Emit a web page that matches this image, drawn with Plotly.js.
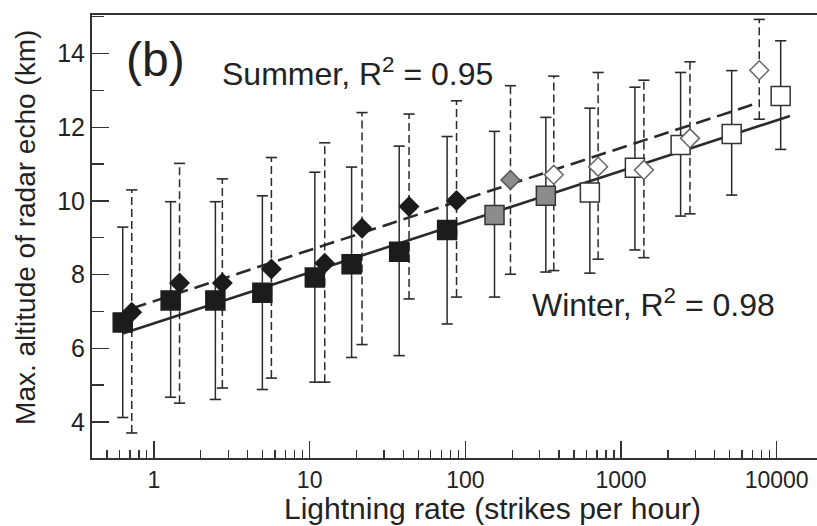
<!DOCTYPE html>
<html>
<head>
<meta charset="utf-8">
<script src="https://cdn.plot.ly/plotly-3.0.1.min.js"></script>
<style>html,body{margin:0;padding:0;background:#fff}#chart{width:817px;height:526px}</style>
</head>
<body>
<div id="chart"></div>
<script>
// Winter (squares, solid)
const winterRate = [0.63, 1.28, 2.48, 4.97, 10.8, 18.6, 37.6, 76.4, 154, 329, 631, 1228, 2415, 5140, 10610];
const winterAlt  = [6.70, 7.30, 7.30, 7.51, 7.92, 8.28, 8.62, 9.21, 9.62, 10.14, 10.23, 10.90, 11.52, 11.82, 12.85];
const winterHi   = [9.29, 9.98, 9.98, 10.14, 10.78, 10.92, 11.49, 11.75, 11.89, 12.27, 12.52, 13.09, 13.49, 13.54, 14.35];
const winterLo   = [4.12, 4.67, 4.61, 4.88, 5.08, 5.75, 5.80, 6.66, 7.39, 8.07, 8.04, 8.67, 9.59, 10.16, 11.40];
const winterClass = ['black','black','black','black','black','black','black','black','gray','gray','white','white','white','white','white'];

// Summer (diamonds, dashed)
const summerRate = [0.72, 1.46, 2.75, 5.68, 12.5, 21.7, 43.5, 87.8, 195, 370, 713, 1403, 2773, 7730];
const summerAlt  = [6.98, 7.77, 7.77, 8.15, 8.31, 9.26, 9.85, 10.01, 10.57, 10.71, 10.93, 10.84, 11.70, 13.55];
const summerHi   = [10.30, 11.02, 10.60, 11.18, 11.58, 12.40, 12.36, 12.72, 13.13, 13.39, 13.49, 13.28, 13.78, 14.93];
const summerLo   = [3.70, 4.51, 4.92, 5.19, 5.08, 6.10, 7.34, 7.39, 8.01, 8.11, 8.42, 8.46, 9.65, 12.22];
const summerClass = ['black','black','black','black','black','black','black','black','gray','white','white','white','white','white'];

// Regression lines (end points)
const winterFitRate = [0.63, 12170];
const winterFitAlt  = [6.40, 12.31];
const summerFitRate = [0.72, 7430];
const summerFitAlt  = [7.08, 12.65];

const xTickVals = [1, 10, 100, 1000, 10000];
const xTickText = ['1', '10', '100', '1000', '10000'];
const yTickVals = [4, 6, 8, 10, 12, 14];

const fills = {black: '#1c1c1c', gray: '#8c8c8c', white: '#ffffff'};
const sqEdge = {black: '#1c1c1c', gray: '#333333', white: '#333333'};
const diEdge = {black: '#1c1c1c', gray: '#555555', white: '#666666'};

function stems(x, lo, hi) {
  const xs = [], ys = [];
  x.forEach((v, i) => { xs.push(v, v, null); ys.push(lo[i], hi[i], null); });
  return {xs, ys};
}
const ws = stems(winterRate, winterLo, winterHi);
const ss = stems(summerRate, summerLo, summerHi);
const ink = '#2a2a2a';

const traces = [
  {x: ws.xs, y: ws.ys, mode: 'lines', line: {color: ink, width: 1.5}, hoverinfo: 'skip'},
  {x: ss.xs, y: ss.ys, mode: 'lines', line: {color: ink, width: 1.5, dash: '8px,4px'}, hoverinfo: 'skip'},
  {x: winterRate.concat(winterRate), y: winterLo.concat(winterHi), mode: 'markers',
   marker: {symbol: 'line-ew', size: 8, line: {color: ink, width: 1.6}}, hoverinfo: 'skip'},
  {x: summerRate.concat(summerRate), y: summerLo.concat(summerHi), mode: 'markers',
   marker: {symbol: 'line-ew', size: 8, line: {color: ink, width: 1.6}}, hoverinfo: 'skip'},
  {x: winterFitRate, y: winterFitAlt, mode: 'lines', line: {color: ink, width: 2.6}},
  {x: summerFitRate, y: summerFitAlt, mode: 'lines', line: {color: ink, width: 2.6, dash: '15px,7px'}},
  {x: winterRate, y: winterAlt, mode: 'markers',
   marker: {symbol: 'square', size: 19, color: winterClass.map(c => fills[c]),
            line: {color: winterClass.map(c => sqEdge[c]), width: 1.5}}},
  {x: summerRate, y: summerAlt, mode: 'markers',
   marker: {symbol: 'diamond', size: 14.5, color: summerClass.map(c => fills[c]),
            line: {color: summerClass.map(c => diEdge[c]), width: 1.5}}}
];

const font = 'Liberation Sans, Arial, Helvetica, sans-serif';
const layout = {
  width: 817, height: 526,
  margin: {l: 92, r: 0, t: 15, b: 68},
  paper_bgcolor: '#fff', plot_bgcolor: '#fff',
  showlegend: false,
  font: {family: font, color: '#222'},
  xaxis: {
    type: 'log', range: [-0.398, 4.259],
    tickvals: xTickVals, ticktext: xTickText,
    ticks: 'inside', ticklen: 17, tickwidth: 1.5, tickcolor: '#333',
    minor: {ticks: 'inside', ticklen: 8, tickwidth: 1.3, tickcolor: '#333', dtick: 'D1', showgrid: false},
    showgrid: false, zeroline: false,
    showline: true, linecolor: '#333', linewidth: 2, mirror: true,
    tickfont: {size: 23, family: font, color: '#222'}
  },
  yaxis: {
    range: [3.02, 15.05],
    tickvals: yTickVals,
    ticks: 'inside', ticklen: 17, tickwidth: 1.5, tickcolor: '#333',
    minor: {ticks: 'inside', ticklen: 12, tickwidth: 1.3, tickcolor: '#333', dtick: 1, showgrid: false},
    showgrid: false, zeroline: false,
    showline: true, linecolor: '#333', linewidth: 2,
    tickfont: {size: 25, family: font, color: '#222'}
  },
  annotations: [
    {text: 'Lightning rate (strikes per hour)', xref: 'paper', yref: 'paper', x: 0.553, y: -0.113,
     xanchor: 'center', yanchor: 'middle', showarrow: false, font: {size: 30, family: font, color: '#222'}},
    {text: 'Max. altitude of radar echo (km)', xref: 'paper', yref: 'paper', x: -0.092, y: 0.52, textangle: -90,
     xanchor: 'center', yanchor: 'middle', showarrow: false, font: {size: 28, family: font, color: '#222'}},
    {text: '(b)', xref: 'paper', yref: 'paper', x: 0.087, y: 0.8985, xanchor: 'center', yanchor: 'middle',
     showarrow: false, font: {size: 48, family: font, color: '#222'}},
    {text: 'Summer, R<sup>2</sup> = 0.95', xref: 'paper', yref: 'paper', x: 0.176, y: 0.871, xanchor: 'left', yanchor: 'middle',
     showarrow: false, font: {size: 32, family: font, color: '#222'}},
    {text: 'Winter, R<sup>2</sup> = 0.98', xref: 'paper', yref: 'paper', x: 0.604, y: 0.350, xanchor: 'left', yanchor: 'middle',
     showarrow: false, font: {size: 32, family: font, color: '#222'}}
  ]
};

Plotly.newPlot('chart', traces, layout, {staticPlot: true, displayModeBar: false});
</script>
</body>
</html>
